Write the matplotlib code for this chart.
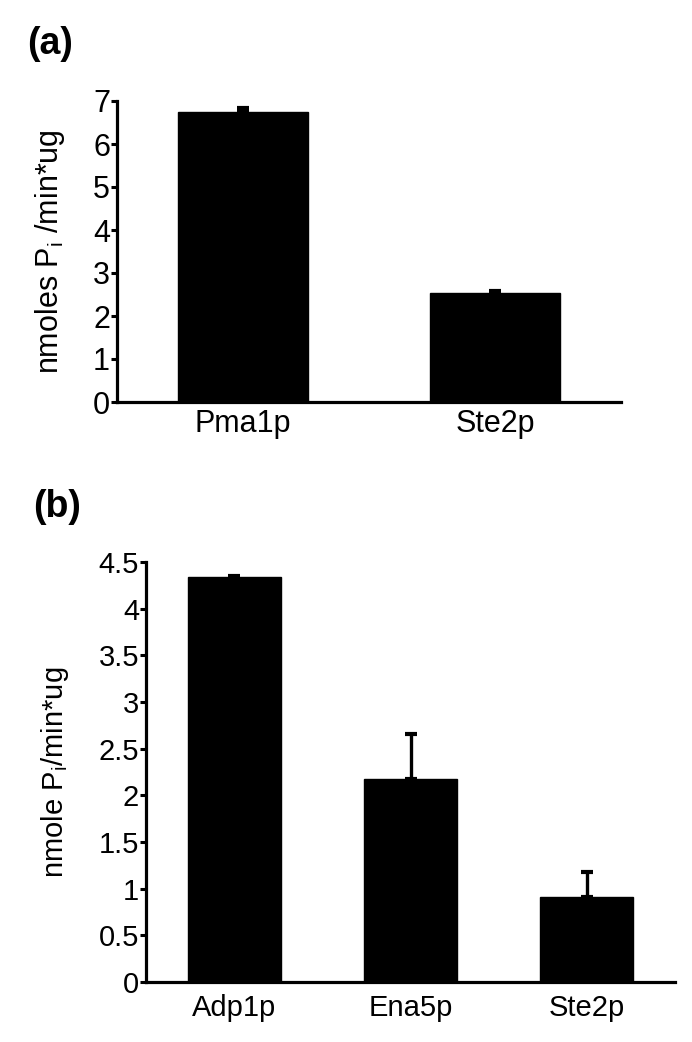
import matplotlib
matplotlib.use("Agg")
import matplotlib.pyplot as plt

plt.rcParams['font.family'] = ['Liberation Sans', 'DejaVu Sans']
plt.rcParams['mathtext.default'] = 'regular'

# Panel (a) data
cats_a = ["Pma1p", "Ste2p"]
vals_a = [6.74, 2.53]
errs_a = [0.10, 0.05]
yticks_a = [0, 1, 2, 3, 4, 5, 6, 7]
ylabel_a = "nmoles P$_{i}$ /min*ug"

# Panel (b) data
cats_b = ["Adp1p", "Ena5p", "Ste2p"]
vals_b = [4.34, 2.18, 0.91]
errs_b = [0.01, 0.48, 0.27]
yticks_b = [0, 0.5, 1, 1.5, 2, 2.5, 3, 3.5, 4, 4.5]
yticklabels_b = ["0", "0.5", "1", "1.5", "2", "2.5", "3", "3.5", "4", "4.5"]
ylabel_b = "nmole P$_{i}$/min*ug"

W, H = 692, 1042
fig = plt.figure(figsize=(W / 100, H / 100), dpi=100)


def px_axes(l, r, t, b):
    return fig.add_axes([l / W, 1 - b / H, (r - l) / W, (b - t) / H])


def style(ax, fs_tick, fs_x, xpad):
    for s in ("top", "right"):
        ax.spines[s].set_visible(False)
    for s in ("left", "bottom"):
        ax.spines[s].set_linewidth(2.3)
        ax.spines[s].set_color("black")
    ax.tick_params(axis="y", direction="out", length=4, width=2.2,
                   pad=1, labelsize=fs_tick, colors="black")
    ax.tick_params(axis="x", length=0, labelsize=fs_x, pad=xpad)


# ---- (a)
axa = px_axes(117, 621, 101, 402)
xa = list(range(len(cats_a)))
axa.bar(xa, vals_a, width=0.516, color="black", edgecolor="black",
        yerr=[[0] * len(errs_a), errs_a], capsize=4.5,
        error_kw=dict(elinewidth=2.4, capthick=3.0, ecolor="black"))
axa.set_xlim(-0.5, 1.5)
axa.set_ylim(0, 7)
axa.set_yticks(yticks_a)
axa.set_xticks(xa)
axa.set_xticklabels(cats_a)
style(axa, 22, 22, 5)
axa.set_ylabel(ylabel_a, fontsize=22)
axa.yaxis.set_label_coords(-0.099, 0.5)

# ---- (b)
axb = px_axes(146, 675, 562, 982)
xb = list(range(len(cats_b)))
axb.bar(xb, vals_b, width=0.527, color="black", edgecolor="black",
        yerr=[[0] * len(errs_b), errs_b], capsize=4.5,
        error_kw=dict(elinewidth=2.4, capthick=3.0, ecolor="black"))
axb.set_xlim(-0.5, 2.5)
axb.set_ylim(0, 4.5)
axb.set_yticks(yticks_b)
axb.set_yticklabels(yticklabels_b)
axb.set_xticks(xb)
axb.set_xticklabels(cats_b)
style(axb, 21, 21, 9)
axb.set_ylabel(ylabel_b, fontsize=21)
axb.yaxis.set_label_coords(-0.142, 0.5)

fig.text(27 / W, 1 - 44 / H, "(a)", fontsize=27, fontweight="bold",
         ha="left", va="center")
fig.text(33 / W, 1 - 507 / H, "(b)", fontsize=27, fontweight="bold",
         ha="left", va="center")

fig.savefig("out.png", dpi=100, facecolor="white")
